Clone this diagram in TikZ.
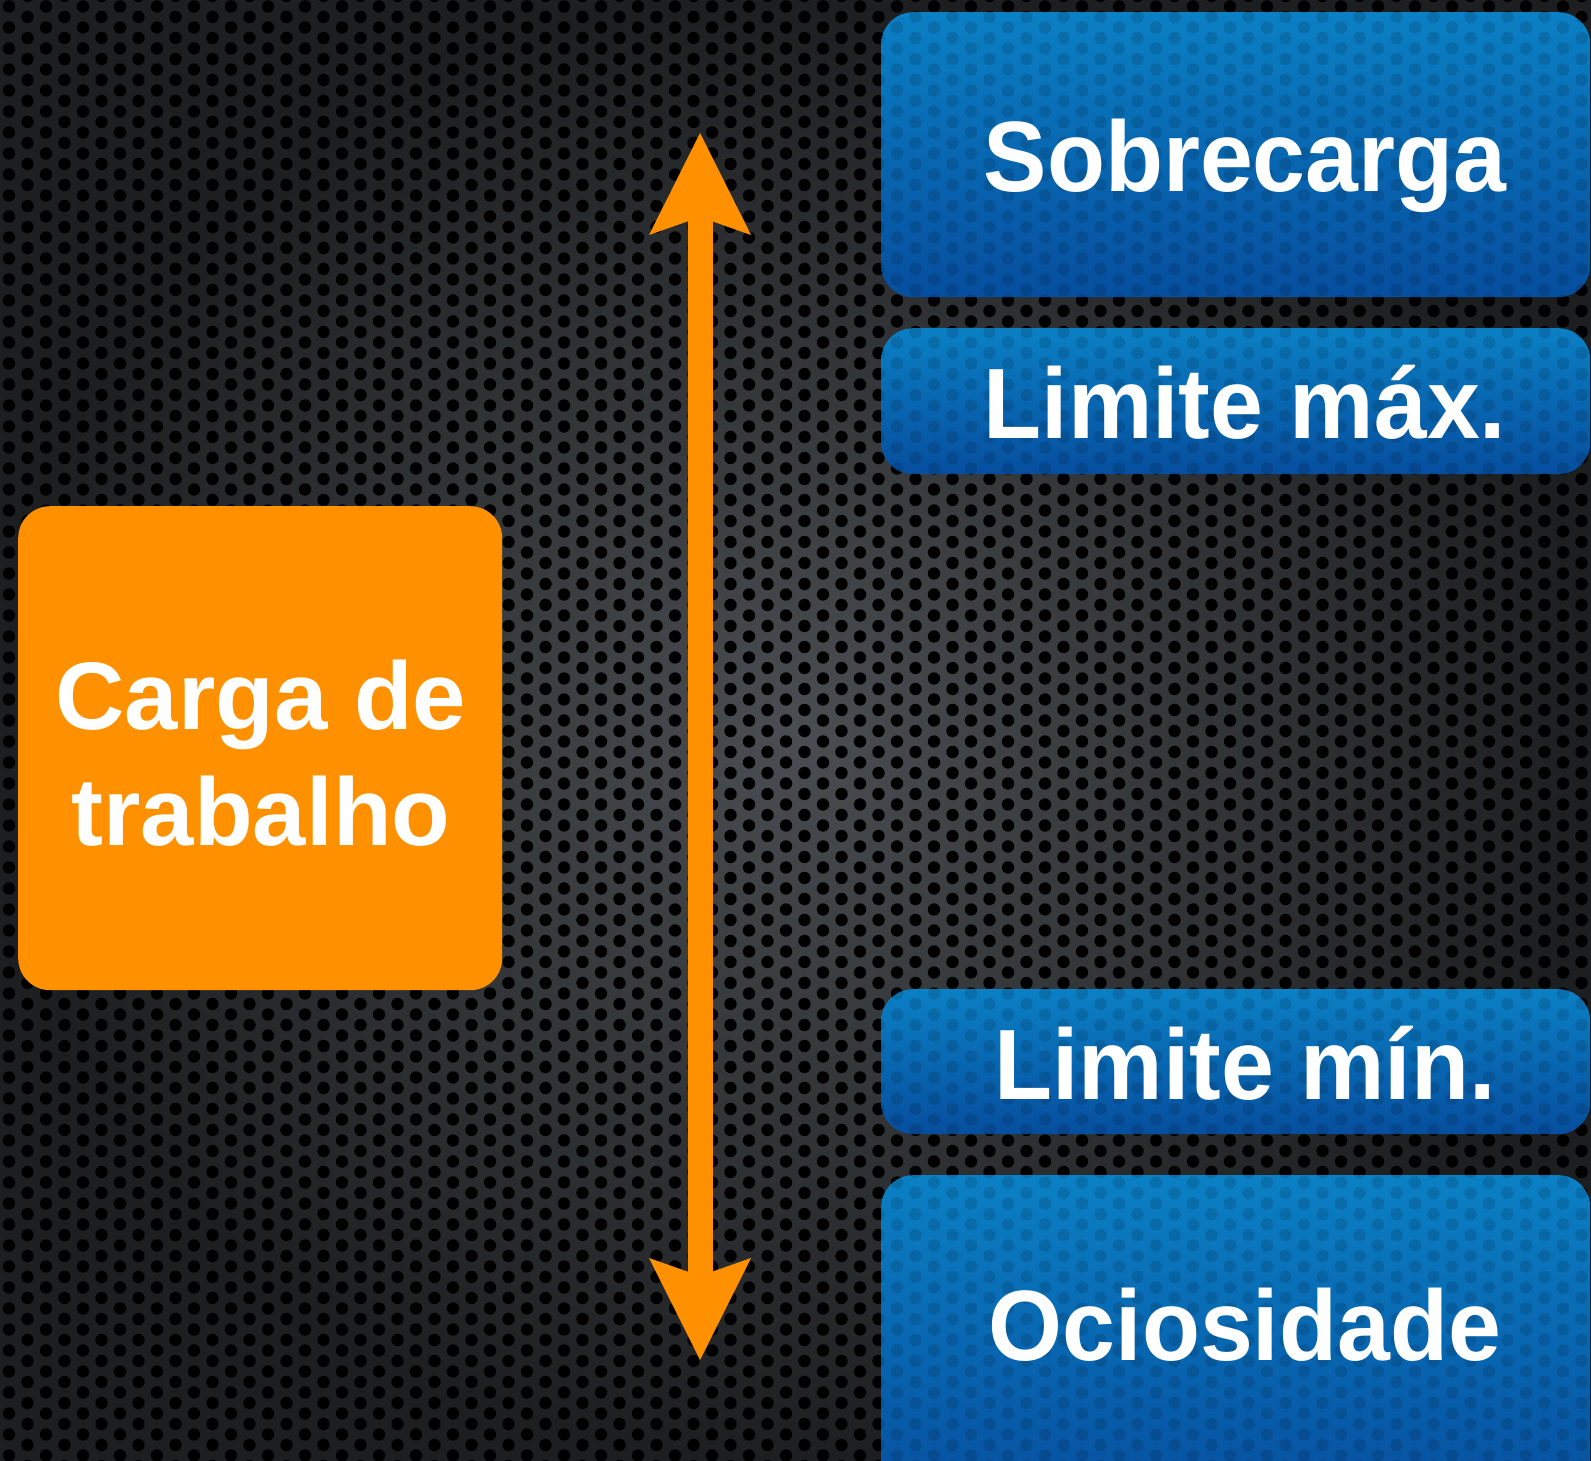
\documentclass[tikz,border=0pt]{standalone}
\usepackage{fontspec}
\setmainfont{Liberation Sans}
\newfontfamily\boxfont[FakeStretch=0.95]{Liberation Sans}
\usetikzlibrary{arrows.meta,patterns,shadings}
\pgfdeclarepatternformonly{holes}{\pgfqpoint{-1pt}{-1pt}}{\pgfqpoint{38pt}{22pt}}{\pgfqpoint{37pt}{21pt}}{%
  \pgfpathcircle{\pgfqpoint{9pt}{5.5pt}}{6.2pt}%
  \pgfpathcircle{\pgfqpoint{27.5pt}{16pt}}{6.2pt}%
  \pgfusepath{fill}}
\definecolor{orng}{HTML}{FF9100}
\definecolor{bluetop}{HTML}{0B80C4}
\definecolor{bluebot}{HTML}{064E9E}
\definecolor{bgin}{HTML}{4A4D51}
\definecolor{bgout}{HTML}{1C1E20}
\tikzset{
  bluebox/.style={rounded corners=32pt, top color=bluetop, bottom color=bluebot, draw=none,
    inner sep=0pt, anchor=north west,
    postaction={fill opacity=0.12, pattern=holes, pattern color=black}},
  orangebox/.style={rounded corners=32pt, fill=orng, draw=none, inner sep=0pt, anchor=north west},
  bluetext/.style={text=white, inner sep=0pt, anchor=base, font=\boxfont\fontsize{100}{110}\selectfont\bfseries},
  orangetext/.style={text=white, inner sep=0pt, align=center, font=\fontsize{96}{116}\selectfont\bfseries},
  rangearrow/.style={orng, line width=25pt,
    {Stealth[length=102pt,width=102pt,inset=18pt,line width=0pt]}-{Stealth[length=102pt,width=102pt,inset=18pt,line width=0pt]}}
}
\begin{document}
\begin{tikzpicture}[x=1pt,y=-1pt]
\useasboundingbox (0,0) rectangle (1591,1461);
\shade[inner color=bgin, outer color=bgout] (0,0) rectangle (1591,1461);
\fill[pattern=holes, pattern color=black] (0,0) rectangle (1591,1461);

% blue boxes
\node[bluebox, minimum width=709pt, minimum height=285pt] (sobre) at (881,12) {};
\node[bluebox, minimum width=709pt, minimum height=146pt] (limmax) at (881,328) {};
\node[bluebox, minimum width=709pt, minimum height=145pt] (limmin) at (881,989) {};
\node[bluebox, minimum width=709pt, minimum height=330pt] (ocio) at (881,1175) {};

\node[bluetext] (sobreT) at (1245,191) {Sobrecarga};
\node[bluetext] (limmaxT) at (1245,438) {Limite máx.};
\node[bluetext] (limminT) at (1245,1099) {Limite mín.};
\node[bluetext] (ocioT) at (1245,1360) {Ociosidade};

% orange box
\node[orangebox, minimum width=484pt, minimum height=484pt] (carga) at (18,506) {};
\node[orangetext] (cargaT) at (261,753) {Carga de\\trabalho};

% arrow
\coordinate (atop) at (700,133);
\coordinate (abot) at (700,1360);
\draw[rangearrow] (atop) -- (abot);
\end{tikzpicture}
\end{document}
